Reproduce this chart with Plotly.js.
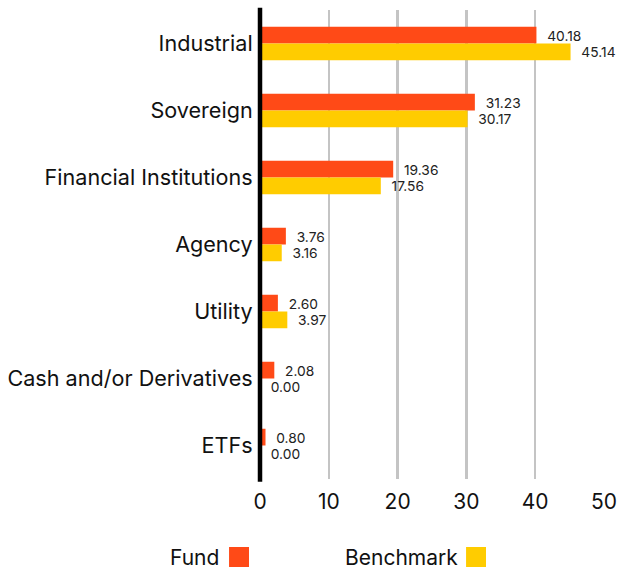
<!DOCTYPE html>
<html>
<head>
<meta charset="utf-8">
<script src="https://cdn.plot.ly/plotly-3.0.1.min.js"></script>
<style>html,body{margin:0;padding:0;background:#fff;}#chart{width:617px;height:573px;}</style>
</head>
<body>
<div id="chart"></div>
<script>
const categories = ["Industrial", "Sovereign", "Financial Institutions", "Agency", "Utility", "Cash and/or Derivatives", "ETFs"];
const fundValues = [40.18, 31.23, 19.36, 3.76, 2.60, 2.08, 0.80];
const benchmarkValues = [45.14, 30.17, 17.56, 3.16, 3.97, 0.00, 0.00];
const xTicks = [0, 10, 20, 30, 40, 50];
const seriesNames = ["Fund", "Benchmark"];
const colors = ["#FF4A17", "#FFCC00"];

const font = "Inter, 'Open Sans', sans-serif";

const traces = [fundValues, benchmarkValues].map((vals, i) => ({
  type: "bar",
  orientation: "h",
  name: seriesNames[i],
  y: categories,
  x: vals,
  marker: {color: colors[i]},
  text: vals.map(v => "\u00a0\u00a0" + v.toFixed(2)),
  textposition: "outside",
  cliponaxis: false,
  textfont: {family: font, size: 14, color: "#222"},
  hoverinfo: "none"
}));

const layout = {
  width: 617, height: 573,
  margin: {l: 260, r: 13, t: 10, b: 94},
  paper_bgcolor: "#fff", plot_bgcolor: "#fff",
  barmode: "group",
  bargap: 0.5,
  bargroupgap: 0,
  showlegend: false,
  font: {family: font, color: "#111"},
  xaxis: {
    range: [0, 50],
    tickvals: xTicks,
    ticktext: xTicks.map(String),
    showgrid: true, gridcolor: "#c4c4c4", gridwidth: 2.5,
    zeroline: false, showline: false,
    ticks: "outside", ticklen: 4, tickcolor: "rgba(0,0,0,0)",
    ticklabeloverflow: "allow",
    tickfont: {family: font, size: 21, color: "#111"},
    fixedrange: true
  },
  yaxis: {
    type: "category",
    autorange: "reversed",
    showgrid: false, zeroline: false,
    showline: false,
    ticks: "outside", ticklen: 2, tickcolor: "rgba(0,0,0,0)",
    tickfont: {family: font, size: 21.6, color: "#111"},
    fixedrange: true
  },
  shapes: [
    {type: "line", xref: "paper", yref: "paper", x0: 0, x1: 0, y0: -0.006, y1: 1.005, line: {color: "#000", width: 4.5}},
    {type: "rect", xref: "paper", yref: "paper", x0: -0.090, x1: -0.032, y0: -0.1876, y1: -0.145, fillcolor: colors[0], line: {width: 0}},
    {type: "rect", xref: "paper", yref: "paper", x0: 0.599, x1: 0.657, y0: -0.1876, y1: -0.145, fillcolor: colors[1], line: {width: 0}}
  ],
  annotations: [
    {xref: "paper", yref: "paper", x: -0.114, y: -0.198, xanchor: "right", yanchor: "bottom", text: seriesNames[0], showarrow: false, font: {family: font, size: 21, color: "#111"}},
    {xref: "paper", yref: "paper", x: 0.58, y: -0.198, xanchor: "right", yanchor: "bottom", text: seriesNames[1], showarrow: false, font: {family: font, size: 21, color: "#111"}}
  ]
};

Plotly.newPlot("chart", traces, layout, {displayModeBar: false, staticPlot: true});
</script>
</body>
</html>
